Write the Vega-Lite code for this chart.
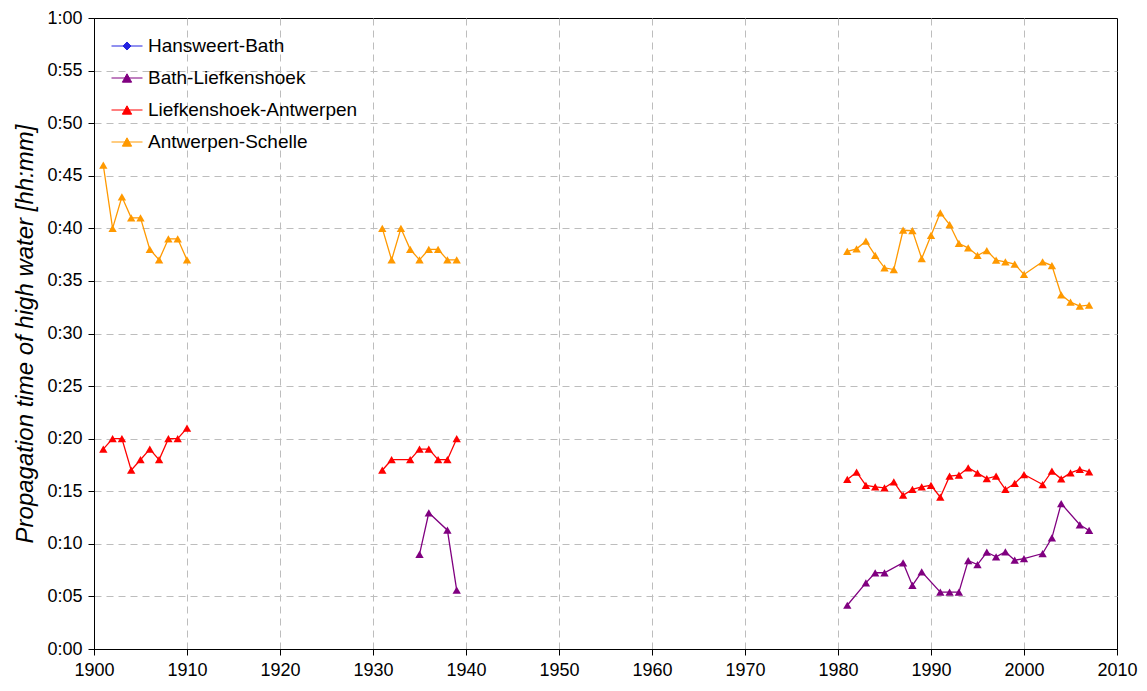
{
  "$schema": "https://vega.github.io/schema/vega-lite/v6.json",
  "autosize": {"type": "none"},
  "padding": {"left": 94, "top": 18, "right": 30, "bottom": 42},
  "width": 1023,
  "height": 631,
  "background": "white",
  "config": {
    "font": "Liberation Sans",
    "view": {"stroke": "#000000", "strokeWidth": 1},
    "axis": {
      "labelFont": "Liberation Sans",
      "labelFontSize": 18,
      "labelColor": "#000000",
      "domainColor": "#000000",
      "tickColor": "#000000",
      "tickSize": 6,
      "gridColor": "#bdbdbd",
      "gridDash": [7, 5],
      "gridWidth": 1
    }
  },
  "data": {
    "values": [
      {"year": 1901, "series": "Antwerpen-Schelle", "period": "a", "value": 46},
      {"year": 1902, "series": "Antwerpen-Schelle", "period": "a", "value": 40},
      {"year": 1903, "series": "Antwerpen-Schelle", "period": "a", "value": 43},
      {"year": 1904, "series": "Antwerpen-Schelle", "period": "a", "value": 41},
      {"year": 1905, "series": "Antwerpen-Schelle", "period": "a", "value": 41},
      {"year": 1906, "series": "Antwerpen-Schelle", "period": "a", "value": 38},
      {"year": 1907, "series": "Antwerpen-Schelle", "period": "a", "value": 37},
      {"year": 1908, "series": "Antwerpen-Schelle", "period": "a", "value": 39},
      {"year": 1909, "series": "Antwerpen-Schelle", "period": "a", "value": 39},
      {"year": 1910, "series": "Antwerpen-Schelle", "period": "a", "value": 37},
      {"year": 1931, "series": "Antwerpen-Schelle", "period": "b", "value": 40},
      {"year": 1932, "series": "Antwerpen-Schelle", "period": "b", "value": 37},
      {"year": 1933, "series": "Antwerpen-Schelle", "period": "b", "value": 40},
      {"year": 1934, "series": "Antwerpen-Schelle", "period": "b", "value": 38},
      {"year": 1935, "series": "Antwerpen-Schelle", "period": "b", "value": 37},
      {"year": 1936, "series": "Antwerpen-Schelle", "period": "b", "value": 38},
      {"year": 1937, "series": "Antwerpen-Schelle", "period": "b", "value": 38},
      {"year": 1938, "series": "Antwerpen-Schelle", "period": "b", "value": 37},
      {"year": 1939, "series": "Antwerpen-Schelle", "period": "b", "value": 37},
      {"year": 1981, "series": "Antwerpen-Schelle", "period": "c", "value": 37.8},
      {"year": 1982, "series": "Antwerpen-Schelle", "period": "c", "value": 38.05},
      {"year": 1983, "series": "Antwerpen-Schelle", "period": "c", "value": 38.78},
      {"year": 1984, "series": "Antwerpen-Schelle", "period": "c", "value": 37.42},
      {"year": 1985, "series": "Antwerpen-Schelle", "period": "c", "value": 36.25},
      {"year": 1986, "series": "Antwerpen-Schelle", "period": "c", "value": 36.08},
      {"year": 1987, "series": "Antwerpen-Schelle", "period": "c", "value": 39.82},
      {"year": 1988, "series": "Antwerpen-Schelle", "period": "c", "value": 39.79},
      {"year": 1989, "series": "Antwerpen-Schelle", "period": "c", "value": 37.13},
      {"year": 1990, "series": "Antwerpen-Schelle", "period": "c", "value": 39.32},
      {"year": 1991, "series": "Antwerpen-Schelle", "period": "c", "value": 41.48},
      {"year": 1992, "series": "Antwerpen-Schelle", "period": "c", "value": 40.36},
      {"year": 1993, "series": "Antwerpen-Schelle", "period": "c", "value": 38.56},
      {"year": 1994, "series": "Antwerpen-Schelle", "period": "c", "value": 38.15},
      {"year": 1995, "series": "Antwerpen-Schelle", "period": "c", "value": 37.42},
      {"year": 1996, "series": "Antwerpen-Schelle", "period": "c", "value": 37.89},
      {"year": 1997, "series": "Antwerpen-Schelle", "period": "c", "value": 36.97},
      {"year": 1998, "series": "Antwerpen-Schelle", "period": "c", "value": 36.82},
      {"year": 1999, "series": "Antwerpen-Schelle", "period": "c", "value": 36.59},
      {"year": 2000, "series": "Antwerpen-Schelle", "period": "c", "value": 35.61},
      {"year": 2002, "series": "Antwerpen-Schelle", "period": "c", "value": 36.82},
      {"year": 2003, "series": "Antwerpen-Schelle", "period": "c", "value": 36.46},
      {"year": 2004, "series": "Antwerpen-Schelle", "period": "c", "value": 33.68},
      {"year": 2005, "series": "Antwerpen-Schelle", "period": "c", "value": 32.98},
      {"year": 2006, "series": "Antwerpen-Schelle", "period": "c", "value": 32.6},
      {"year": 2007, "series": "Antwerpen-Schelle", "period": "c", "value": 32.69},
      {"year": 1901, "series": "Liefkenshoek-Antwerpen", "period": "a", "value": 19},
      {"year": 1902, "series": "Liefkenshoek-Antwerpen", "period": "a", "value": 20},
      {"year": 1903, "series": "Liefkenshoek-Antwerpen", "period": "a", "value": 20},
      {"year": 1904, "series": "Liefkenshoek-Antwerpen", "period": "a", "value": 17},
      {"year": 1905, "series": "Liefkenshoek-Antwerpen", "period": "a", "value": 18},
      {"year": 1906, "series": "Liefkenshoek-Antwerpen", "period": "a", "value": 19},
      {"year": 1907, "series": "Liefkenshoek-Antwerpen", "period": "a", "value": 18},
      {"year": 1908, "series": "Liefkenshoek-Antwerpen", "period": "a", "value": 20},
      {"year": 1909, "series": "Liefkenshoek-Antwerpen", "period": "a", "value": 20},
      {"year": 1910, "series": "Liefkenshoek-Antwerpen", "period": "a", "value": 21},
      {"year": 1931, "series": "Liefkenshoek-Antwerpen", "period": "b", "value": 17},
      {"year": 1932, "series": "Liefkenshoek-Antwerpen", "period": "b", "value": 18},
      {"year": 1934, "series": "Liefkenshoek-Antwerpen", "period": "b", "value": 18},
      {"year": 1935, "series": "Liefkenshoek-Antwerpen", "period": "b", "value": 19},
      {"year": 1936, "series": "Liefkenshoek-Antwerpen", "period": "b", "value": 19},
      {"year": 1937, "series": "Liefkenshoek-Antwerpen", "period": "b", "value": 18},
      {"year": 1938, "series": "Liefkenshoek-Antwerpen", "period": "b", "value": 18},
      {"year": 1939, "series": "Liefkenshoek-Antwerpen", "period": "b", "value": 20},
      {"year": 1981, "series": "Liefkenshoek-Antwerpen", "period": "c", "value": 16.12},
      {"year": 1982, "series": "Liefkenshoek-Antwerpen", "period": "c", "value": 16.81},
      {"year": 1983, "series": "Liefkenshoek-Antwerpen", "period": "c", "value": 15.55},
      {"year": 1984, "series": "Liefkenshoek-Antwerpen", "period": "c", "value": 15.42},
      {"year": 1985, "series": "Liefkenshoek-Antwerpen", "period": "c", "value": 15.33},
      {"year": 1986, "series": "Liefkenshoek-Antwerpen", "period": "c", "value": 15.9},
      {"year": 1987, "series": "Liefkenshoek-Antwerpen", "period": "c", "value": 14.62},
      {"year": 1988, "series": "Liefkenshoek-Antwerpen", "period": "c", "value": 15.17},
      {"year": 1989, "series": "Liefkenshoek-Antwerpen", "period": "c", "value": 15.42},
      {"year": 1990, "series": "Liefkenshoek-Antwerpen", "period": "c", "value": 15.57},
      {"year": 1991, "series": "Liefkenshoek-Antwerpen", "period": "c", "value": 14.43},
      {"year": 1992, "series": "Liefkenshoek-Antwerpen", "period": "c", "value": 16.43},
      {"year": 1993, "series": "Liefkenshoek-Antwerpen", "period": "c", "value": 16.53},
      {"year": 1994, "series": "Liefkenshoek-Antwerpen", "period": "c", "value": 17.23},
      {"year": 1995, "series": "Liefkenshoek-Antwerpen", "period": "c", "value": 16.72},
      {"year": 1996, "series": "Liefkenshoek-Antwerpen", "period": "c", "value": 16.21},
      {"year": 1997, "series": "Liefkenshoek-Antwerpen", "period": "c", "value": 16.43},
      {"year": 1998, "series": "Liefkenshoek-Antwerpen", "period": "c", "value": 15.17},
      {"year": 1999, "series": "Liefkenshoek-Antwerpen", "period": "c", "value": 15.74},
      {"year": 2000, "series": "Liefkenshoek-Antwerpen", "period": "c", "value": 16.59},
      {"year": 2002, "series": "Liefkenshoek-Antwerpen", "period": "c", "value": 15.64},
      {"year": 2003, "series": "Liefkenshoek-Antwerpen", "period": "c", "value": 16.91},
      {"year": 2004, "series": "Liefkenshoek-Antwerpen", "period": "c", "value": 16.18},
      {"year": 2005, "series": "Liefkenshoek-Antwerpen", "period": "c", "value": 16.75},
      {"year": 2006, "series": "Liefkenshoek-Antwerpen", "period": "c", "value": 17.07},
      {"year": 2007, "series": "Liefkenshoek-Antwerpen", "period": "c", "value": 16.85},
      {"year": 1935, "series": "Bath-Liefkenshoek", "period": "b", "value": 8.99},
      {"year": 1936, "series": "Bath-Liefkenshoek", "period": "b", "value": 12.95},
      {"year": 1938, "series": "Bath-Liefkenshoek", "period": "b", "value": 11.3},
      {"year": 1939, "series": "Bath-Liefkenshoek", "period": "b", "value": 5.59},
      {"year": 1981, "series": "Bath-Liefkenshoek", "period": "c", "value": 4.16},
      {"year": 1983, "series": "Bath-Liefkenshoek", "period": "c", "value": 6.29},
      {"year": 1984, "series": "Bath-Liefkenshoek", "period": "c", "value": 7.25},
      {"year": 1985, "series": "Bath-Liefkenshoek", "period": "c", "value": 7.25},
      {"year": 1987, "series": "Bath-Liefkenshoek", "period": "c", "value": 8.2},
      {"year": 1988, "series": "Bath-Liefkenshoek", "period": "c", "value": 6.04},
      {"year": 1989, "series": "Bath-Liefkenshoek", "period": "c", "value": 7.34},
      {"year": 1991, "series": "Bath-Liefkenshoek", "period": "c", "value": 5.4},
      {"year": 1992, "series": "Bath-Liefkenshoek", "period": "c", "value": 5.4},
      {"year": 1993, "series": "Bath-Liefkenshoek", "period": "c", "value": 5.4},
      {"year": 1994, "series": "Bath-Liefkenshoek", "period": "c", "value": 8.41},
      {"year": 1995, "series": "Bath-Liefkenshoek", "period": "c", "value": 8.03},
      {"year": 1996, "series": "Bath-Liefkenshoek", "period": "c", "value": 9.2},
      {"year": 1997, "series": "Bath-Liefkenshoek", "period": "c", "value": 8.77},
      {"year": 1998, "series": "Bath-Liefkenshoek", "period": "c", "value": 9.24},
      {"year": 1999, "series": "Bath-Liefkenshoek", "period": "c", "value": 8.44},
      {"year": 2000, "series": "Bath-Liefkenshoek", "period": "c", "value": 8.6},
      {"year": 2002, "series": "Bath-Liefkenshoek", "period": "c", "value": 9.08},
      {"year": 2003, "series": "Bath-Liefkenshoek", "period": "c", "value": 10.57},
      {"year": 2004, "series": "Bath-Liefkenshoek", "period": "c", "value": 13.83},
      {"year": 2006, "series": "Bath-Liefkenshoek", "period": "c", "value": 11.81},
      {"year": 2007, "series": "Bath-Liefkenshoek", "period": "c", "value": 11.27}
    ]
  },
  "encoding": {
    "x": {
      "field": "year",
      "type": "quantitative",
      "scale": {"domain": [1900, 2010], "nice": false, "zero": false},
      "axis": {
        "title": null,
        "values": [1900, 1910, 1920, 1930, 1940, 1950, 1960, 1970, 1980, 1990, 2000, 2010],
        "format": "d",
        "labelPadding": 6,
        "labelFlush": false,
        "labelOverlap": false,
        "gridOpacity": {"condition": {"test": "datum.value === 1900 || datum.value === 2010", "value": 0}, "value": 1}
      }
    },
    "y": {
      "field": "value",
      "type": "quantitative",
      "scale": {"domain": [0, 60], "nice": false},
      "axis": {
        "title": "Propagation time of high water [hh:mm]",
        "titleFont": "Liberation Sans",
        "titleFontStyle": "italic",
        "titleFontWeight": "normal",
        "titleFontSize": 24,
        "titleColor": "#000000",
        "titlePadding": 9,
        "values": [0, 5, 10, 15, 20, 25, 30, 35, 40, 45, 50, 55, 60],
        "labelExpr": "floor(datum.value / 60) + ':' + ((datum.value % 60) < 10 ? '0' : '') + (datum.value % 60)",
        "labelPadding": 6,
        "labelFlush": false,
        "labelOverlap": false,
        "gridOpacity": {"condition": {"test": "datum.value === 0 || datum.value === 60", "value": 0}, "value": 1}
      }
    },
    "color": {
      "field": "series",
      "type": "nominal",
      "scale": {
        "domain": ["Hansweert-Bath", "Bath-Liefkenshoek", "Liefkenshoek-Antwerpen", "Antwerpen-Schelle"],
        "range": ["#2323E0", "#800080", "#FF0000", "#FF9900"]
      }
    }
  },
  "layer": [
    {
      "mark": {"type": "line", "strokeWidth": 1.3},
      "encoding": {
        "detail": {"field": "period", "type": "nominal"},
        "color": {
          "field": "series",
          "type": "nominal",
          "scale": {
            "domain": ["Hansweert-Bath", "Bath-Liefkenshoek", "Liefkenshoek-Antwerpen", "Antwerpen-Schelle"],
            "range": ["#2323E0", "#800080", "#FF0000", "#FF9900"]
          },
          "legend": {
            "title": null,
            "orient": "none",
            "legendX": 17,
            "legendY": 12,
            "labelFont": "Liberation Sans",
            "labelFontSize": 19,
            "labelColor": "#000000",
            "labelOffset": 5,
            "labelLimit": 400,
            "rowPadding": 6,
            "symbolSize": 961,
            "symbolStrokeWidth": 1,
            "symbolType": "M-1,0H1M-0.3,0.27L0,-0.27L0.3,0.27Z",
            "encode": {
              "symbols": {
                "update": {
                  "shape": {"signal": "datum.value === 'Hansweert-Bath' ? 'M-1,0H1M0,-0.26L0.26,0L0,0.26L-0.26,0Z' : 'M-1,0H1M-0.3,0.27L0,-0.27L0.3,0.27Z'"},
                  "fill": {"signal": "scale('color', datum.value)"},
                  "stroke": {"signal": "scale('color', datum.value)"},
                  "strokeWidth": {"value": 1},
                  "opacity": {"value": 1}
                }
              }
            }
          }
        }
      }
    },
    {
      "mark": {"type": "point", "shape": "triangle-up", "filled": true, "size": 70, "opacity": 1},
      "encoding": {
        "color": {
          "field": "series",
          "type": "nominal",
          "legend": null
        }
      }
    }
  ]
}
